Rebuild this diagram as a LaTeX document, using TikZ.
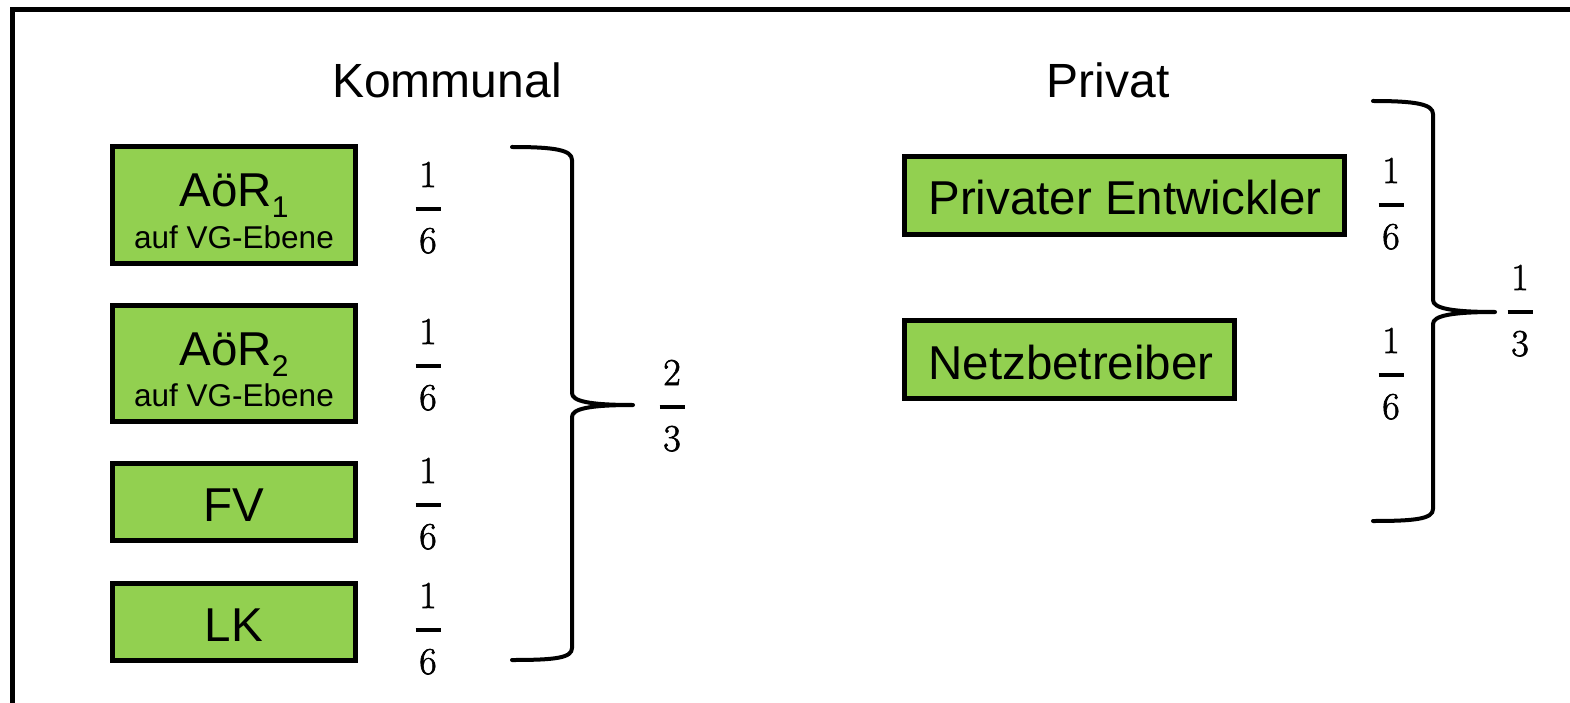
\documentclass[tikz,border=0pt]{standalone}
\usepackage{fontspec}
\newfontfamily\labelfont{Liberation Sans}
\newfontfamily\numfont[FakeBold=1.6]{Latin Modern Roman}
\definecolor{boxgreen}{HTML}{92D050}
\tikzset{
  greenbox/.style={draw=black, line width=5pt, fill=boxgreen, inner sep=0pt},
  boxtext/.style={anchor=base, inner sep=0pt, font=\labelfont\fontsize{47.5}{50}\selectfont},
  smalltext/.style={anchor=base, inner sep=0pt, font=\labelfont\fontsize{31.5}{33}\selectfont},
  heading/.style={anchor=base, inner sep=0pt, font=\labelfont\fontsize{48}{50}\selectfont},
  fracdigit/.style={anchor=base, inner sep=0pt, font=\numfont\fontsize{38}{40}\selectfont},
  fracbar/.style={line width=3.5pt},
  brace/.style={line width=4pt, line cap=round, line join=round},
  frame/.style={line width=5pt, line join=miter}
}
% numerator, bar and denominator of a fraction; #1 name, (#2,#3) middle of the bar
\newcommand\fracat[5]{%
  \node[fracdigit] (#1n) at (#2,#3-22) {#4};
  \node[fracdigit] (#1d) at (#2,#3+44) {#5};
  \draw[fracbar] (#2-12.5,#3) -- (#2+12.5,#3);
}
\begin{document}
\begin{tikzpicture}[x=1pt, y=-1pt]
\useasboundingbox (0,0) rectangle (1570,703);

% outer frame
\draw[frame] (12.5,710) -- (12.5,9.5) -- (1575,9.5);

% headings
\node[heading] (kommunal) at (447,98) {Kommunal};
\node[heading] (privat) at (1108,98) {Privat};

% municipal partners
\node[greenbox, minimum width=243pt, minimum height=116pt] (aoer1) at (234,205) {};
\node[boxtext] (aoer1t) at (234,207) {AöR\raisebox{-11pt}{\fontsize{30}{30}\selectfont 1}};
\node[smalltext] (aoer1s) at (234,248) {auf VG-Ebene};

\node[greenbox, minimum width=243pt, minimum height=116pt] (aoer2) at (234,363) {};
\node[boxtext] (aoer2t) at (234,365) {AöR\raisebox{-11pt}{\fontsize{30}{30}\selectfont 2}};
\node[smalltext] (aoer2s) at (234,406) {auf VG-Ebene};

\node[greenbox, minimum width=243pt, minimum height=77pt] (fv) at (234,502) {};
\node[boxtext] (fvt) at (234,521) {FV};

\node[greenbox, minimum width=243pt, minimum height=77pt] (lk) at (234,621.5) {};
\node[boxtext] (lkt) at (234,641) {LK};

% private partners
\node[greenbox, minimum width=440pt, minimum height=78pt] (pe) at (1124.5,195.5) {};
\node[boxtext] (pet) at (1125,215) {Privater Entwickler};

\node[greenbox, minimum width=330pt, minimum height=78pt] (nb) at (1069.5,359.5) {};
\node[boxtext] (nbt) at (1071,379) {Netzbetreiber};

% shares
\fracat{s1}{428}{209}{1}{6}
\fracat{s2}{428}{366}{1}{6}
\fracat{s3}{428}{505}{1}{6}
\fracat{s4}{428}{630}{1}{6}
\fracat{s5}{672}{407}{2}{3}
\fracat{s6}{1391}{205}{1}{6}
\fracat{s7}{1391}{375}{1}{6}
\fracat{s8}{1520}{312}{1}{3}

% left brace
\draw[brace] (512,147) .. controls (555,147) and (572,150) .. (572,160)
  -- (572,393) .. controls (572,401) and (588,405) .. (633,405)
  .. controls (588,405) and (572,409) .. (572,417)
  -- (572,648) .. controls (572,658) and (555,660) .. (512,660);

% right brace
\draw[brace] (1373,101) .. controls (1415,101) and (1433,104) .. (1433,114)
  -- (1433,300) .. controls (1433,308) and (1450,312) .. (1495,312)
  .. controls (1450,312) and (1433,316) .. (1433,324)
  -- (1433,509) .. controls (1433,519) and (1415,521) .. (1373,521);
\end{tikzpicture}
\end{document}
